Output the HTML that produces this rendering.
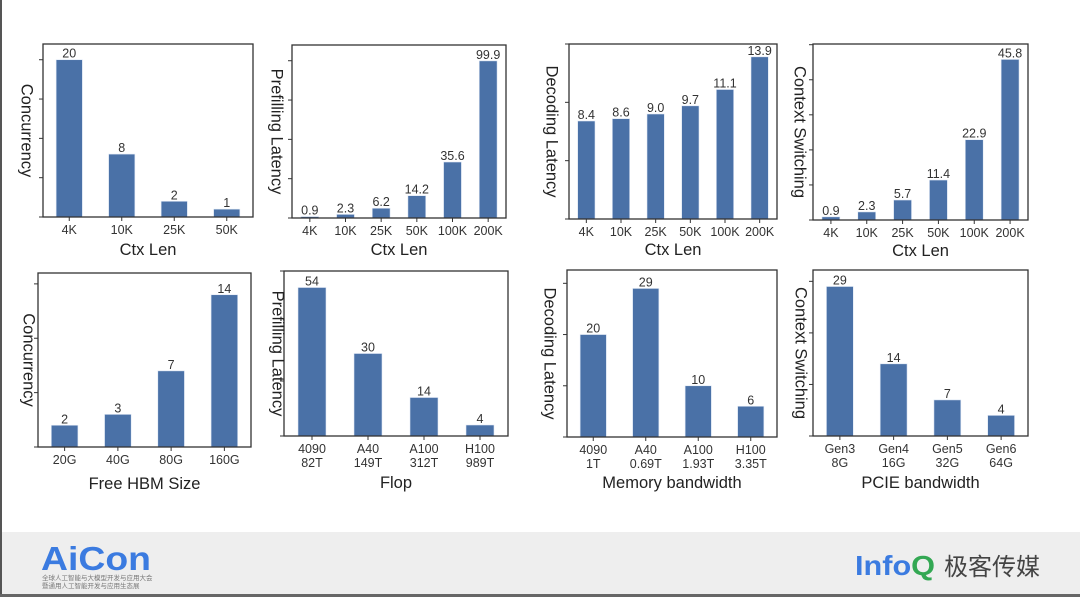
<!DOCTYPE html>
<html><head><meta charset="utf-8"><style>
body{margin:0;width:1080px;height:597px;overflow:hidden;background:#fff;font-family:"Liberation Sans","Noto Sans CJK SC",sans-serif;position:relative}
#frame{position:absolute;left:0;top:0;width:1080px;height:597px}
</style></head><body>
<svg id="frame" width="1080" height="597">
<rect x="0" y="0" width="2" height="597" fill="#555"/>
<rect x="2" y="532" width="1078" height="62" fill="#eeeeee"/>
<rect x="0" y="594" width="1080" height="3" fill="#666"/>
<g id="charts"></g>
<g>
<text x="41" y="570" font-size="33" font-weight="bold" fill="#3b7be0" textLength="110" lengthAdjust="spacingAndGlyphs">AiCon</text>
<text x="42" y="580" font-size="6.5" fill="#777">全球人工智能与大模型开发与应用大会</text>
<text x="42" y="588" font-size="6.5" fill="#777">暨通用人工智能开发与应用生态展</text>
</g>
<g>
<text x="855" y="575" font-size="28" font-weight="bold" fill="#3b7be0" textLength="80" lengthAdjust="spacingAndGlyphs">Info<tspan fill="#33a853">Q</tspan></text>
<text x="944" y="575" font-size="24" fill="#444">极客传媒</text>
</g>
</svg>
<script>
const cats1=["4K","10K","25K","50K"];const vals1=[20,8,2,1];
const cats2=["4K","10K","25K","50K","100K","200K"];const vals2=[0.9,2.3,6.2,14.2,35.6,99.9];
const cats3=["4K","10K","25K","50K","100K","200K"];const vals3=[8.4,8.6,9.0,9.7,11.1,13.9];
const cats4=["4K","10K","25K","50K","100K","200K"];const vals4=[0.9,2.3,5.7,11.4,22.9,45.8];
const cats5=["20G","40G","80G","160G"];const vals5=[2,3,7,14];
const cats6=["4090\n82T","A40\n149T","A100\n312T","H100\n989T"];const vals6=[54,30,14,4];
const cats7=["4090\n1T","A40\n0.69T","A100\n1.93T","H100\n3.35T"];const vals7=[20,29,10,6];
const cats8=["Gen3\n8G","Gen4\n16G","Gen5\n32G","Gen6\n64G"];const vals8=[29,14,7,4];
const labels1=["20","8","2","1"];const labels2=["0.9","2.3","6.2","14.2","35.6","99.9"];
const labels3=["8.4","8.6","9.0","9.7","11.1","13.9"];const labels4=["0.9","2.3","5.7","11.4","22.9","45.8"];
const labels5=["2","3","7","14"];const labels6=["54","30","14","4"];const labels7=["20","29","10","6"];const labels8=["29","14","7","4"];
const NS="http://www.w3.org/2000/svg";
const root=document.getElementById('charts');
function mk(tag,attrs,parent){const e=document.createElementNS(NS,tag);for(const k in attrs)e.setAttribute(k,attrs[k]);parent.appendChild(e);return e;}
function panel(p){
 const g=mk('g',{},root);
 
 
 const n=p.cats.length,w=p.r-p.l,h=p.b-p.t;
 const ymax=p.ymax;
 const y=v=>p.b-v/ymax*h;
 const xs=i=>p.l+(i+0.5)*w/n;
 const bw=0.5*w/n;
 for(let i=0;i<n;i++){
  const r=mk('rect',{x:xs(i)-bw/2,y:y(p.vals[i]),width:bw,height:p.b-y(p.vals[i]),fill:'#4a71a7',stroke:'#dfe8f5','stroke-width':0.6},g);
  
  
  const t=mk('text',{x:xs(i),y:y(p.vals[i])-2,'text-anchor':'middle','font-size':12.5,fill:'#333'},g);
  t.textContent=p.labels[i];
  
  
  const tk=mk('line',{x1:xs(i),x2:xs(i),y1:p.b,y2:p.b+4,stroke:'#333','stroke-width':1},g);
  
  
  const lines=p.cats[i].split('\n');
  lines.forEach((ln,j)=>{
   const tl=mk('text',{x:xs(i),y:p.b+17+j*14,'text-anchor':'middle','font-size':12.5,fill:'#333'},g);
   tl.textContent=ln;
   
   
  });
 }
 for(let v=0;v<=ymax;v+=p.step){
  const tk=mk('line',{x1:p.l-4,x2:p.l,y1:y(v),y2:y(v),stroke:'#333','stroke-width':1},g);
  
  
 }
 const box=mk('rect',{x:p.l,y:p.t,width:w,height:h,fill:'none',stroke:'#333','stroke-width':1.3},g);
 
 
 const yl=mk('text',{x:p.yx,y:(p.t+p.b)/2,'text-anchor':'middle','font-size':16.5,fill:'#222',transform:`rotate(90 ${p.yx} ${(p.t+p.b)/2})`,'dominant-baseline':'middle'},g);
 yl.textContent=p.ytitle;
 
 
 const xl=mk('text',{x:(p.l+p.r)/2,y:p.xty,'text-anchor':'middle','font-size':16.5,fill:'#222'},g);
 xl.textContent=p.xtitle;
 
 
}
panel({name:'concurrency-vs-ctx-len',cats:cats1,vals:vals1,labels:labels1,l:43,r:253,t:44,b:217,ymax:22,step:5,yx:26,ytitle:'Concurrency',xtitle:'Ctx Len',xty:255});
panel({name:'prefilling-vs-ctx-len',cats:cats2,vals:vals2,labels:labels2,l:292,r:506,t:45,b:218,ymax:110,step:25,yx:276,ytitle:'Prefilling Latency',xtitle:'Ctx Len',xty:255});
panel({name:'decoding-vs-ctx-len',cats:cats3,vals:vals3,labels:labels3,l:569,r:777,t:44,b:219,ymax:15,step:5,yx:551,ytitle:'Decoding Latency',xtitle:'Ctx Len',xty:255});
panel({name:'switching-vs-ctx-len',cats:cats4,vals:vals4,labels:labels4,l:813,r:1028,t:44,b:220,ymax:50.2,step:10,yx:799,ytitle:'Context Switching',xtitle:'Ctx Len',xty:256});
panel({name:'concurrency-vs-hbm',cats:cats5,vals:vals5,labels:labels5,l:38,r:251,t:273,b:447,ymax:16,step:5,yx:28,ytitle:'Concurrency',xtitle:'Free HBM Size',xty:489});
panel({name:'prefilling-vs-flop',cats:cats6,vals:vals6,labels:labels6,l:284,r:508,t:271,b:436,ymax:60,step:20,yx:277,ytitle:'Prefilling Latency',xtitle:'Flop',xty:488});
panel({name:'decoding-vs-memory-bandwidth',cats:cats7,vals:vals7,labels:labels7,l:567,r:777,t:270,b:437,ymax:32.6,step:10,yx:549,ytitle:'Decoding Latency',xtitle:'Memory bandwidth',xty:488});
panel({name:'switching-vs-pcie-bandwidth',cats:cats8,vals:vals8,labels:labels8,l:813,r:1028,t:270,b:436,ymax:32.2,step:10,yx:800,ytitle:'Context Switching',xtitle:'PCIE bandwidth',xty:488});
</script>
</body></html>
